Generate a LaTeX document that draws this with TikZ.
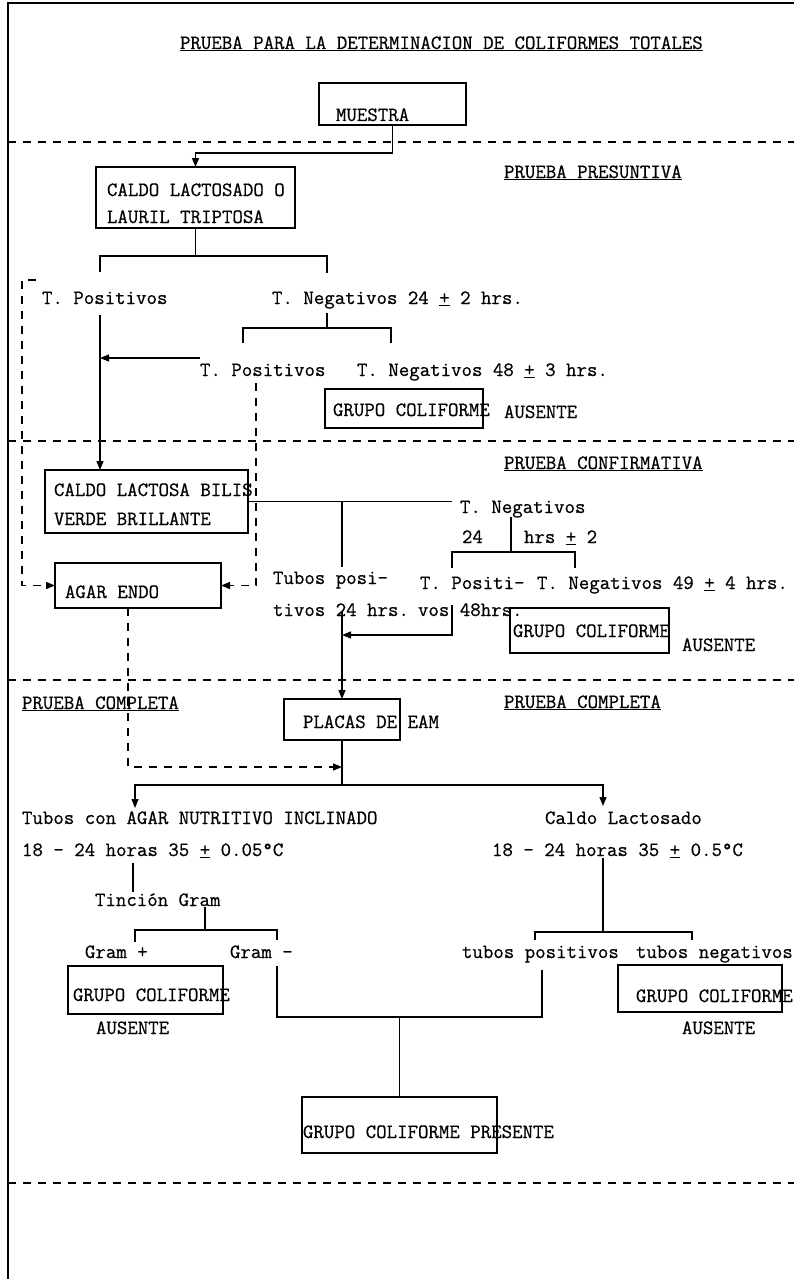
\documentclass[tikz,border=0pt]{standalone}
\usepackage{fontspec}
\setmonofont[FakeBold=0.6]{Latin Modern Mono}
\usetikzlibrary{arrows.meta}
\newcommand{\pmu}{\underline{+}}
\begin{document}
\begin{tikzpicture}[x=1pt,y=-1pt,
  ln/.style={line width=1.3pt},
  arr/.style={ln,-{Triangle[length=9pt,width=7pt]}},
  dsh/.style={line width=1.3pt,dash pattern=on 8pt off 7pt},
  darr/.style={dsh,-{Triangle[length=9pt,width=7pt]}},
  box/.style={draw,line width=1.3pt,inner sep=0pt,outer sep=0pt,anchor=north west},
  txt/.style={anchor=base west,inner sep=0pt,outer sep=0pt,font=\ttfamily\fontsize{20.3}{22}\selectfont}]
\fill[white] (0,0) rectangle (794,1279);
\useasboundingbox (0,0) rectangle (794,1279);
% frame and section separators
\draw[ln] (8,1279) -- (8,3) -- (794,3);
\foreach \yy in {142,441,680,1183} \draw[dsh] (8,\yy) -- (794,\yy);
% boxes
\node[box,minimum width=147pt,minimum height=42pt] (m) at (319,83) {};
\node[box,minimum width=199pt,minimum height=61pt] (c1) at (96,167) {};
\node[box,minimum width=158pt,minimum height=39pt] (g1) at (325,389) {};
\node[box,minimum width=203pt,minimum height=63pt] (c2) at (45,470) {};
\node[box,minimum width=166pt,minimum height=45pt] (ae) at (55,563) {};
\node[box,minimum width=159pt,minimum height=45pt] (g2) at (510,608) {};
\node[box,minimum width=116pt,minimum height=41pt] (pl) at (284,699) {};
\node[box,minimum width=155pt,minimum height=48pt] (g3) at (68,966) {};
\node[box,minimum width=164pt,minimum height=47pt] (g4) at (618,965) {};
\node[box,minimum width=195pt,minimum height=56pt] (gp) at (302,1097) {};
% texts
\node[txt] (title) at (180,49) {\underline{PRUEBA PARA LA DETERMINACION DE COLIFORMES TOTALES}};
\node[txt] (mt) at (336,121) {MUESTRA};
\node[txt] (pres) at (504,178) {\underline{PRUEBA PRESUNTIVA}};
\node[txt] (c1a) at (107,196) {CALDO LACTOSADO O};
\node[txt] (c1b) at (107,223) {LAURIL TRIPTOSA};
\node[txt] (tp1) at (42,304) {T. Positivos};
\node[txt] (tn1) at (272,304) {T. Negativos 24 \pmu{} 2 hrs.};
\node[txt] (tp2) at (200,376) {T. Positivos};
\node[txt] (tn2) at (357,376) {T. Negativos 48 \pmu{} 3 hrs.};
\node[txt] (g1t) at (333,416) {GRUPO COLIFORME};
\node[txt] (aus1) at (504,418) {AUSENTE};
\node[txt] (conf) at (504,469) {\underline{PRUEBA CONFIRMATIVA}};
\node[txt] (c2a) at (54,496) {CALDO LACTOSA BILIS};
\node[txt] (c2b) at (54,525) {VERDE BRILLANTE};
\node[txt] (tn3) at (460,513) {T. Negativos};
\node[txt] (h24) at (462,543) {24};
\node[txt] (hrs) at (524,543) {hrs \pmu{} 2};
\node[txt] (tp3a) at (420,589) {T. Positi-};
\node[txt] (tp3b) at (418,616) {vos 48hrs.};
\node[txt] (tn4) at (537,589) {T. Negativos 49 \pmu{} 4 hrs.};
\node[txt] (tub1) at (273,584) {Tubos posi-};
\node[txt] (tub2) at (273,616) {tivos 24 hrs.};
\node[txt] (g2t) at (513,637) {GRUPO COLIFORME};
\node[txt] (aus2) at (682,651) {AUSENTE};
\node[txt] (aet) at (65,598) {AGAR ENDO};
\node[txt] (comp1) at (22,709) {\underline{PRUEBA COMPLETA}};
\node[txt] (comp2) at (504,708) {\underline{PRUEBA COMPLETA}};
\node[txt] (plt) at (303,728) {PLACAS DE EAM};
\node[txt] (tca) at (22,824) {Tubos con AGAR NUTRITIVO INCLINADO};
\node[txt] (tcb) at (22,856) {18 - 24 horas 35 \pmu{} 0.05°C};
\node[txt] (cla) at (545,824) {Caldo Lactosado};
\node[txt] (clb) at (492,856) {18 - 24 horas 35 \pmu{} 0.5°C};
\node[txt] (tin) at (95,906) {Tinción Gram};
\node[txt] (gpos) at (85,958) {Gram +};
\node[txt] (gneg) at (230,958) {Gram -};
\node[txt] (tpos) at (462,958) {tubos positivos};
\node[txt] (tneg) at (636,958) {tubos negativos};
\node[txt] (g3t) at (73,1001) {GRUPO COLIFORME};
\node[txt] (aus3) at (96,1034) {AUSENTE};
\node[txt] (g4t) at (636,1002) {GRUPO COLIFORME};
\node[txt] (aus4) at (682,1034) {AUSENTE};
\node[txt] (gpt) at (303,1138) {GRUPO COLIFORME PRESENTE};
% connectors
\draw[arr] (m.south) -- ++(0,28) -| (c1.north);
\draw[ln] (c1.south) -- ++(0,28);
\coordinate (b1l) at (100,272); \coordinate (b1r) at (327,273);
\draw[ln] (b1l) -- ++(0,-16) -| (b1r);
\coordinate (n1) at (327,313);
\draw[ln] (n1) -- ++(0,15);
\coordinate (b2l) at (243,343); \coordinate (b2r) at (391,343);
\draw[ln] (b2l) -- ++(0,-15) -| (b2r);
\coordinate (p1) at (100,315);
\draw[arr] (p1) -- (p1 |- c2.north);
\coordinate (p2) at (200,358);
\draw[arr] (p2) -- (p2 -| p1);
\coordinate (d1) at (36,280); \coordinate (d1c) at (22,280);
\draw[darr] (d1) -- (d1c) |- (ae.west);
\coordinate (d2) at (256,383);
\draw[darr] (d2) |- (ae.east);
\coordinate (h1) at (452,501.5);
\draw[ln] (c2.east) -- (h1);
\coordinate (v1) at (342,567);
\draw[ln] (v1 |- c2.east) -- (v1);
\coordinate (v2) at (342,612);
\draw[arr] (v2) -- (pl.north);
\coordinate (n3) at (511,517);
\draw[ln] (n3) -- ++(0,35);
\coordinate (b3l) at (452,568); \coordinate (b3r) at (575,568);
\draw[ln] (b3l) -- ++(0,-16) -| (b3r);
\coordinate (v3) at (452,605); \coordinate (v3b) at (342,635);
\draw[arr] (v3) |- (v3b);
\coordinate (d3) at (128,767);
\draw[darr] (d3 |- ae.south) -- (d3) -- (d3 -| pl.south);
\draw[ln] (pl.south) -- ++(0,45) coordinate (j5);
\coordinate (a1) at (135,808); \coordinate (a2) at (603,806);
\draw[arr] (j5) -| (a1);
\draw[arr] (j5) -| (a2);
\coordinate (n4) at (133,863);
\draw[ln] (n4) -- ++(0,29);
\coordinate (n5) at (205,907);
\draw[ln] (n5) -- ++(0,23);
\coordinate (b4l) at (135,942); \coordinate (b4r) at (277,940);
\draw[ln] (b4l) -- ++(0,-12) -| (b4r);
\coordinate (gm1) at (277,966); \coordinate (tp4) at (542,970);
\draw[ln] (gm1) -- ++(0,51) -| (tp4);
\coordinate (j6) at (399.5,1017);
\draw[ln] (j6) -- (gp.north);
\coordinate (n6) at (603,858);
\draw[ln] (n6) -- ++(0,74);
\coordinate (b5l) at (535,940); \coordinate (b5r) at (692,940);
\draw[ln] (b5l) -- ++(0,-8) -| (b5r);
\end{tikzpicture}
\end{document}
